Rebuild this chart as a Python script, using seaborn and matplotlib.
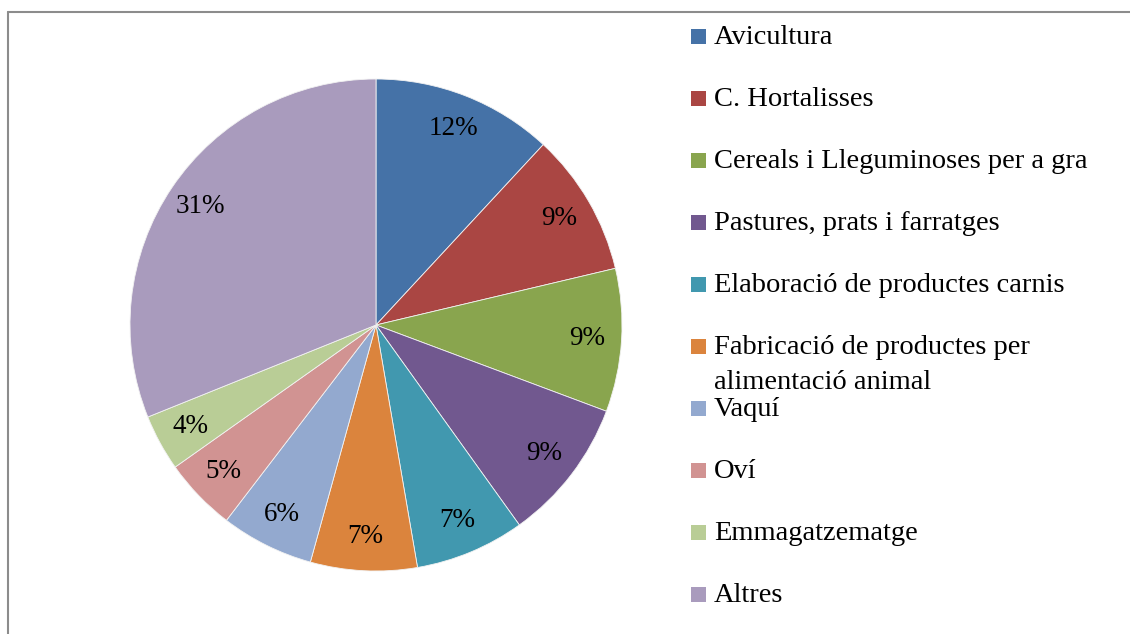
import matplotlib
matplotlib.use("Agg")
import matplotlib.pyplot as plt
import seaborn as sns
from matplotlib.patches import Rectangle
from matplotlib.lines import Line2D

# Dades (percentatges llegits del gràfic)
categories = ["Avicultura", "C. Hortalisses", "Cereals i Lleguminoses per a gra",
              "Pastures, prats i farratges", "Elaboració de productes carnis",
              "Fabricació de productes per\nalimentació animal", "Vaquí", "Oví",
              "Emmagatzematge", "Altres"]
valors = [11.9, 9.4, 9.4, 9.4, 7.2, 7.0, 6.1, 4.8, 3.7, 31.1]
colors = ["#4572A7", "#AA4643", "#89A54E", "#71588F", "#4198AF",
          "#DB843D", "#93A9CF", "#D19392", "#B9CD96", "#A99BBD"]

sns.set_theme(style="white")
plt.rcParams["font.family"] = ["Liberation Serif", "DejaVu Serif"]
paleta = sns.color_palette(colors)

W, H = 1130, 634
fig = plt.figure(figsize=(W / 100, H / 100), dpi=100)

# Pastís: centre (376, 325) px, radi 245 px
cx, cy, r = 376, 325, 246
ax = fig.add_axes([(cx - r) / W, (H - cy - r) / H, 2 * r / W, 2 * r / H])
wedges, texts, autotexts = ax.pie(
    valors, colors=paleta, startangle=90, counterclock=False,
    autopct=lambda p: f"{p:.0f}%", pctdistance=0.86, radius=1,
    wedgeprops=dict(edgecolor="#f2f2f2", linewidth=0.6),
    textprops=dict(fontsize=19.5, color="black"))
ax.set_xlim(-1, 1)
ax.set_ylim(-1, 1)
ax.axis("off")

# Llegenda dibuixada a mà per respectar l'espaiat original
for i, (cat, col) in enumerate(zip(categories, paleta)):
    yb = 44 + 62 * i  # línia base en px
    fig.add_artist(Rectangle((691 / W, 1 - yb / H), 15 / W, 15 / H,
                             transform=fig.transFigure, facecolor=col,
                             edgecolor="none"))
    for j, linia in enumerate(cat.split("\n")):
        fig.text(714 / W, 1 - (yb + 35 * j) / H, linia, fontsize=20.5,
                 va="baseline", ha="left", color="black")

# Vora grisa
fig.add_artist(Line2D([8 / W, 8 / W], [0, 1 - 12 / H], color="#8c8c8c", lw=1.5,
                      transform=fig.transFigure))
fig.add_artist(Line2D([8 / W, 1], [1 - 12 / H, 1 - 12 / H], color="#8c8c8c",
                      lw=1.5, transform=fig.transFigure))

fig.savefig("out.png", dpi=100)
